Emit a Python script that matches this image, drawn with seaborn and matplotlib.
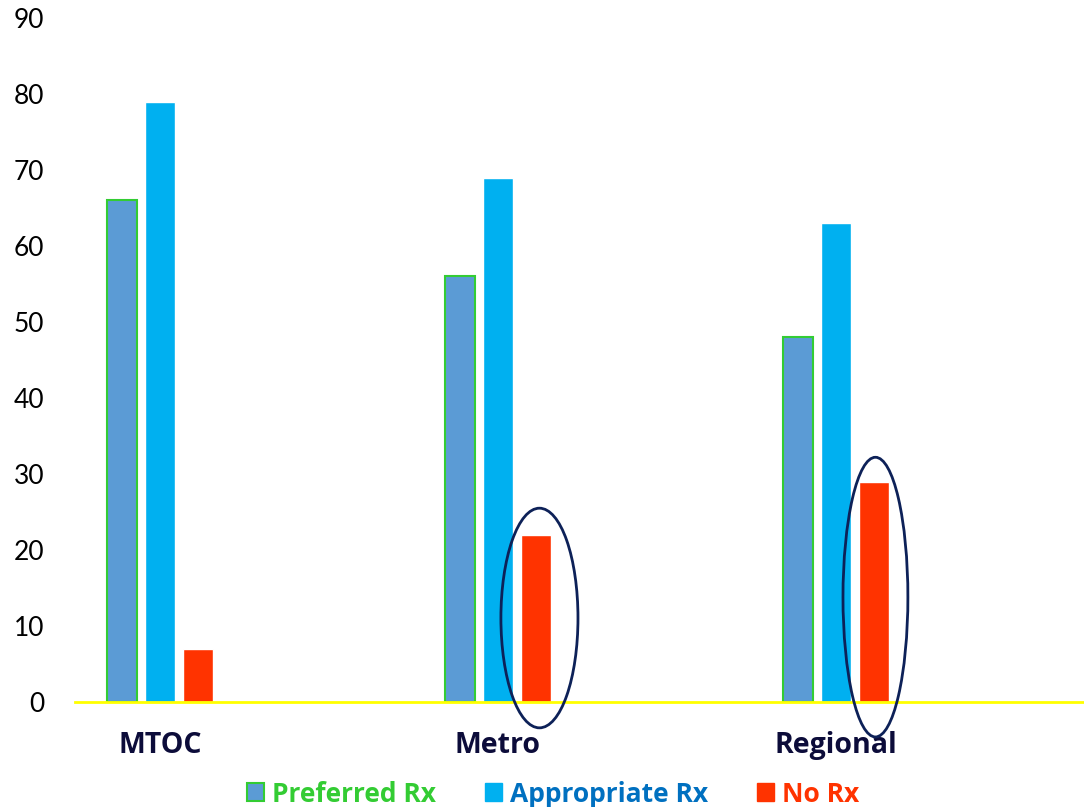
import matplotlib
matplotlib.use("Agg")
import matplotlib.pyplot as plt
from matplotlib.patches import Ellipse, Patch
import seaborn as sns
import pandas as pd

# Data
categories = ["MTOC", "Metro", "Regional"]
series = ["Preferred Rx", "Appropriate Rx", "No Rx"]
preferred = [66, 56, 48]
appropriate = [79, 69, 63]
no_rx = [7, 22, 29]
yticks = [0, 10, 20, 30, 40, 50, 60, 70, 80, 90]

fill_colors = ["#5B9BD5", "#00B0F0", "#FF3300"]
text_colors = ["#33CC33", "#0070C0", "#FF3300"]

df = pd.DataFrame({
    "group": categories * 3,
    "series": [s for s in series for _ in categories],
    "value": preferred + appropriate + no_rx,
})

sns.set_theme(style="white")
plt.rcParams["font.family"] = ["Lato", "DejaVu Sans"]

fig = plt.figure(figsize=(10.84, 8.07), dpi=100)
ax = fig.add_axes([75 / 1084, 105 / 807, 1 - 75 / 1084, 684 / 807])

sns.barplot(data=df, x="group", y="value", hue="series", order=categories,
            hue_order=series, palette=fill_colors, width=0.337, gap=0.21,
            saturation=1, legend=False, ax=ax, zorder=2)

# Green outline on the "Preferred Rx" bars
for bar in ax.containers[0]:
    bar.set_edgecolor("#33CC33")
    bar.set_linewidth(1.5)

ax.set_ylim(0, 90)
ax.set_xlim(-0.251, 2.734)
ax.set_yticks(yticks)
ax.set_yticklabels([str(t) for t in yticks], fontsize=19, color="black")
ax.tick_params(axis="y", length=0, pad=22)
ax.tick_params(axis="x", length=0, pad=21)
ax.set_xticks(range(len(categories)))
ax.set_xticklabels(categories, fontsize=20.5, fontweight="bold", color="#0C0C3A",
                   family=["Open Sans", "DejaVu Sans"])
ax.set_xlabel("")
ax.set_ylabel("")

for side in ["left", "right", "top"]:
    ax.spines[side].set_visible(False)
ax.spines["bottom"].set_color("#FFFF00")
ax.spines["bottom"].set_linewidth(2)
ax.spines["bottom"].set_zorder(3)

# Highlight the "No Rx" bars for Metro and Regional
for cx, cy, w, h in [(1.123, 11.05, 0.228, 28.9), (2.117, 13.8, 0.192, 36.8)]:
    ax.add_patch(Ellipse((cx, cy), w, h, fill=False, edgecolor="#0D2158",
                         linewidth=2, clip_on=False, zorder=4))

# Legend with coloured bold labels
handles = [
    Patch(facecolor=fill_colors[0], edgecolor="#33CC33", linewidth=1.5),
    Patch(facecolor=fill_colors[1], edgecolor=fill_colors[1]),
    Patch(facecolor=fill_colors[2], edgecolor=fill_colors[2]),
]
leg = fig.legend(handles, series, loc="center", bbox_to_anchor=(553 / 1084, 13 / 807),
                 ncol=3, frameon=False,
                 prop={"family": ["Open Sans", "DejaVu Sans"], "size": 19, "weight": "bold"},
                 handlelength=0.65, handleheight=0.65, handletextpad=0.3,
                 columnspacing=1.85, borderaxespad=0, borderpad=0)
for txt, col in zip(leg.get_texts(), text_colors):
    txt.set_color(col)

fig.savefig("out.png", dpi=100)
